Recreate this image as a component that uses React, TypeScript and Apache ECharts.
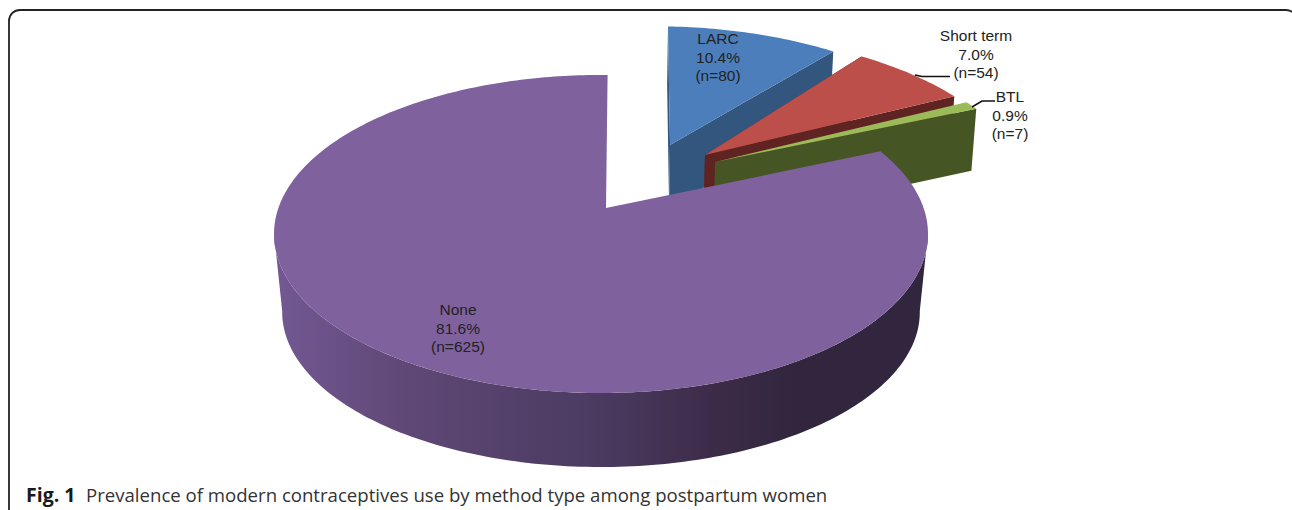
import React, { useEffect, useRef } from "react";
import * as echarts from "echarts";

const categories = ["LARC", "Short term", "BTL", "None"];
const counts = [80, 54, 7, 625];
const percentLabels = ["10.4%", "7.0%", "0.9%", "81.6%"];
const nLabels = ["(n=80)", "(n=54)", "(n=7)", "(n=625)"];
const topColors = ["#4c7ebb", "#bd4f4b", "#9bbb59", "#7f619e"];
const wallColors = ["#33567f", "#5f2321", "#465524", "#000"];

// Disc projection: rim ellipse and where the pie centre falls inside it
const CX = 601, CY = 234, RX = 327, RY = 159;
const APEX = [(606 - CX) / RX, (CY - 208) / RY];
// explosion of each slice on the disc plane, radius factor, angle nudge
const offsets = [[0.2139, 0.4382], [0.3272, 0.3653], [0.3576, 0.3147], [0, 0]];
const radii = [1.02, 1.035, 1.04, 1];
const spins = [1.5, 0, 0, 0.4];
const labelPos = [[718, 57], [976, 54], [1010, 115], [458, 328]];

const total = counts.reduce((a, b) => a + b, 0);

function project(px: number, py: number): [number, number] {
  const [ax, ay] = APEX;
  const alpha2 = ax * ax + ay * ay;
  const alpha = Math.sqrt(alpha2);
  const hx = ax / alpha, hy = ay / alpha;
  const d = px * hx + py * hy;
  const parX = d * hx, parY = d * hy;
  const s = Math.sqrt(1 - alpha2);
  const denom = 1 + px * ax + py * ay;
  const x = (ax + parX + s * (px - parX)) / denom;
  const y = (ay + parY + s * (py - parY)) / denom;
  return [CX + x * RX, CY - y * RY];
}

const dropMain = (p: number[]) => [CX + (p[0] - CX) * 0.975, 312 + (p[1] - CY) * 0.975];
const dropExploded = (p: number[]) => [CX + (p[0] - CX) * 0.987, p[1] + 62 + (p[1] - 110) * 0.05];

function renderItem(params: any, api: any) {
  const i = params.dataIndex;
  const value = api.value(0);
  let before = 0;
  for (let k = 0; k < i; k++) before += counts[k];
  const a0 = (before / total) * 360 + spins[i];
  const a1 = ((before + value) / total) * 360 + spins[i];
  const [ox, oy] = offsets[i];
  const r = radii[i];
  const rim = (deg: number) => {
    const t = (deg * Math.PI) / 180;
    return project(ox + r * Math.sin(t), oy + r * Math.cos(t));
  };
  const apex = project(ox, oy);
  const arc: number[][] = [];
  const steps = Math.max(4, Math.ceil(a1 - a0));
  for (let s = 0; s <= steps; s++) arc.push(rim(a0 + ((a1 - a0) * s) / steps));

  const children: any[] = [];
  if (i < 3) {
    const start = arc[0], end = arc[arc.length - 1];
    const wall = (a: number[], b: number[], fill: string) => ({
      type: "polygon",
      shape: { points: [a, b, dropExploded(b), dropExploded(a)] },
      style: { fill },
    });
    if (i !== 2) children.push(wall(apex, start, wallColors[i]));
    children.push(wall(apex, end, wallColors[i]));
  } else {
    // visible wall runs between the rim's right-most and left-most points
    let degRight = 90, degLeft = 270;
    for (let deg = 60; deg <= 300; deg++) {
      const x = rim(deg)[0];
      if (x > rim(degRight)[0]) degRight = deg;
      if (x < rim(degLeft)[0]) degLeft = deg;
    }
    const front: number[][] = [];
    for (let deg = degRight; deg <= degLeft; deg += 1) front.push(rim(deg));
    const back = front.map(dropMain).reverse();
    children.push({
      type: "polygon",
      shape: { points: [...front, ...back] },
      style: {
        fill: new echarts.graphic.LinearGradient(0, 0, 1, 0, [
          { offset: 0, color: "#735893" },
          { offset: 0.2, color: "#5f4876" },
          { offset: 0.5, color: "#4a3a60" },
          { offset: 0.68, color: "#3c2b47" },
          { offset: 0.8, color: "#31263e" },
          { offset: 1, color: "#31263e" },
        ]),
      },
    });
  }
  children.push({
    type: "polygon",
    shape: { points: [apex, ...arc] },
    style: { fill: topColors[i] },
  });
  return { type: "group", children };
}

function labelElements() {
  return categories.map((name, i) => ({
    type: "text",
    x: labelPos[i][0],
    y: labelPos[i][1],
    z: 10,
    style: {
      text: `${name}\n${percentLabels[i]}\n${nLabels[i]}`,
      fill: "#222",
      font: '15.5px "Liberation Sans", Arial, sans-serif',
      lineHeight: 18.5,
      align: "center",
      verticalAlign: "middle",
    },
  }));
}

export default function App() {
  const ref = useRef<HTMLDivElement>(null);
  useEffect(() => {
    document.body.style.margin = "0";
    const chart = echarts.init(ref.current!, null, { renderer: "svg" });
    chart.setOption({
      animation: false,
      backgroundColor: "#fff",
      series: [
        {
          type: "custom",
          coordinateSystem: "none",
          silent: true,
          clip: false,
          renderItem,
          data: counts.map((v, i) => ({ name: categories[i], value: [v] })),
        },
      ],
      graphic: [
        {
          type: "rect",
          z: 1,
          shape: { x: 9, y: 10, width: 1288, height: 530, r: 11 },
          style: { fill: "none", stroke: "#222", lineWidth: 1.8 },
        },
        {
          type: "polyline",
          z: 10,
          shape: { points: [[915, 75], [922, 76.5], [950, 76.5]] },
          style: { fill: "none", stroke: "#111", lineWidth: 1.6 },
        },
        {
          type: "polyline",
          z: 10,
          shape: { points: [[972, 107], [982, 101], [995, 101]] },
          style: { fill: "none", stroke: "#111", lineWidth: 1.6 },
        },
        ...labelElements(),
        {
          type: "text",
          x: 26,
          y: 494,
          z: 10,
          style: {
            text: "Fig. 1",
            fill: "#1a1a1a",
            font: 'bold 19.5px "Open Sans", sans-serif',
            verticalAlign: "middle",
          },
        },
        {
          type: "text",
          x: 86,
          y: 494,
          z: 10,
          style: {
            text: "Prevalence of modern contraceptives use by method type among postpartum women",
            fill: "#333",
            font: '18.6px "Open Sans", sans-serif',
            verticalAlign: "middle",
          },
        },
      ],
    });
    return () => chart.dispose();
  }, []);
  return <div ref={ref} style={{ width: 1292, height: 510 }} />;
}
